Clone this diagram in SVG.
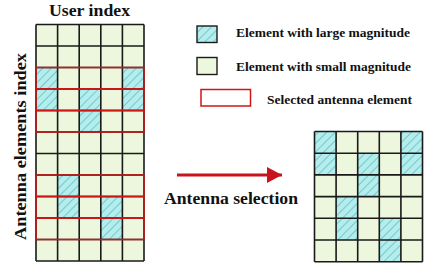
<svg xmlns="http://www.w3.org/2000/svg" width="443" height="266" viewBox="0 0 443 266">
<style>
.t{font-family:"Liberation Serif","Times New Roman",serif;font-weight:bold;fill:#111}
.bg{fill:#edf7dd}
.hx{fill:url(#hatch)}
.gl{fill:none;stroke:#1a1a1a;stroke-width:1.6}
.sel{fill:none;stroke:#d01515;stroke-width:1.5}
</style>
<defs>
<pattern id="hatch" patternUnits="userSpaceOnUse" width="6" height="6" patternTransform="rotate(45)">
<rect width="6" height="6" fill="#b5ecec"/>
<line x1="0" y1="0" x2="0" y2="6" stroke="#4cb8c0" stroke-width="1.3"/>
</pattern>
<marker id="ah" markerWidth="6" markerHeight="6" refX="5" refY="3" orient="auto" markerUnits="strokeWidth">
<path d="M0,0.3 L5,3 L0,5.7 Z" fill="#c8141c"/>
</marker>
</defs>
<text class="t" x="49" y="16" font-size="16.6" textLength="81" lengthAdjust="spacingAndGlyphs">User index</text>
<text class="t" transform="translate(26,240) rotate(-90)" font-size="17" textLength="187" lengthAdjust="spacingAndGlyphs">Antenna elements index</text>
<g id="full-matrix">
<rect class="bg" x="36" y="24.5" width="108" height="236.5"/>
<rect class="hx" x="36" y="67.5" width="21.6" height="21.5"/>
<rect class="hx" x="122.4" y="67.5" width="21.6" height="21.5"/>
<rect class="hx" x="36" y="89" width="21.6" height="21.5"/>
<rect class="hx" x="79.2" y="89" width="21.6" height="21.5"/>
<rect class="hx" x="122.4" y="89" width="21.6" height="21.5"/>
<rect class="hx" x="79.2" y="110.5" width="21.6" height="21.5"/>
<rect class="hx" x="57.6" y="175" width="21.6" height="21.5"/>
<rect class="hx" x="57.6" y="196.5" width="21.6" height="21.5"/>
<rect class="hx" x="100.8" y="196.5" width="21.6" height="21.5"/>
<rect class="hx" x="100.8" y="218" width="21.6" height="21.5"/>
<path class="gl" d="M36,24.5V261M57.6,24.5V261M79.2,24.5V261M100.8,24.5V261M122.4,24.5V261M144,24.5V261M36,24.5H144M36,46H144M36,67.5H144M36,89H144M36,110.5H144M36,132H144M36,153.5H144M36,175H144M36,196.5H144M36,218H144M36,239.5H144M36,261H144"/>
<rect class="sel" x="36" y="67.5" width="108" height="21.5"/>
<rect class="sel" x="36" y="89" width="108" height="21.5"/>
<rect class="sel" x="36" y="110.5" width="108" height="21.5"/>
<rect class="sel" x="36" y="175" width="108" height="21.5"/>
<rect class="sel" x="36" y="196.5" width="108" height="21.5"/>
<rect class="sel" x="36" y="218" width="108" height="21.5"/>
</g>
<g id="selected-matrix">
<rect class="bg" x="314.5" y="131.5" width="108" height="130.2"/>
<rect class="hx" x="314.5" y="131.5" width="21.6" height="21.7"/>
<rect class="hx" x="400.9" y="131.5" width="21.6" height="21.7"/>
<rect class="hx" x="314.5" y="153.2" width="21.6" height="21.7"/>
<rect class="hx" x="357.7" y="153.2" width="21.6" height="21.7"/>
<rect class="hx" x="400.9" y="153.2" width="21.6" height="21.7"/>
<rect class="hx" x="357.7" y="174.9" width="21.6" height="21.7"/>
<rect class="hx" x="336.1" y="196.6" width="21.6" height="21.7"/>
<rect class="hx" x="336.1" y="218.3" width="21.6" height="21.7"/>
<rect class="hx" x="379.3" y="218.3" width="21.6" height="21.7"/>
<rect class="hx" x="379.3" y="240" width="21.6" height="21.7"/>
<path class="gl" d="M314.5,131.5V261.7M336.1,131.5V261.7M357.7,131.5V261.7M379.3,131.5V261.7M400.9,131.5V261.7M422.5,131.5V261.7M314.5,131.5H422.5M314.5,153.2H422.5M314.5,174.9H422.5M314.5,196.6H422.5M314.5,218.3H422.5M314.5,240H422.5M314.5,261.7H422.5"/>
</g>
<g id="legend-large">
<rect x="197" y="26" width="20" height="16.5" fill="url(#hatch)" stroke="#1a1a1a" stroke-width="1.4"/>
<text class="t" x="236" y="37.3" font-size="12" textLength="174" lengthAdjust="spacingAndGlyphs">Element with large magnitude</text>
</g>
<g id="legend-small">
<rect x="197" y="57.5" width="20" height="17" fill="#edf7dd" stroke="#1a1a1a" stroke-width="1.4"/>
<text class="t" x="236" y="71" font-size="12" textLength="175" lengthAdjust="spacingAndGlyphs">Element with small magnitude</text>
</g>
<g id="legend-selected">
<rect x="201" y="89.5" width="49.5" height="16.5" fill="none" stroke="#d01515" stroke-width="1.5"/>
<text class="t" x="267" y="103.5" font-size="12" textLength="145" lengthAdjust="spacingAndGlyphs">Selected antenna element</text>
</g>
<g id="connectors">
<line x1="177" y1="175" x2="282" y2="175" stroke="#c8141c" stroke-width="3" marker-end="url(#ah)"/>
</g>
<text class="t" x="164" y="203.5" font-size="17.5" textLength="134" lengthAdjust="spacingAndGlyphs">Antenna selection</text>
</svg>
